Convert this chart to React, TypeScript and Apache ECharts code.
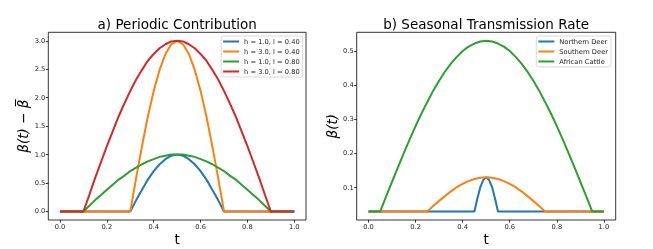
import React, { useEffect, useRef } from "react";
import * as echarts from "echarts";

// ---- Data ----
const X_TICKS = [0, 0.2, 0.4, 0.6, 0.8, 1.0];
const Y_TICKS_A = [0, 0.5, 1.0, 1.5, 2.0, 2.5, 3.0];
const Y_TICKS_B = [0.1, 0.2, 0.3, 0.4, 0.5];

// Panel a) t grid for the wide window (l = 0.80)
const T_WIDE = [0, 0.1, 0.125, 0.15, 0.175, 0.2, 0.225, 0.25, 0.275, 0.3, 0.325, 0.35, 0.375, 0.4, 0.425, 0.45, 0.475, 0.5, 0.525, 0.55, 0.575, 0.6, 0.625, 0.65, 0.675, 0.7, 0.725, 0.75, 0.775, 0.8, 0.825, 0.85, 0.875, 0.9, 1.0];
// Panel a) t grid for the narrow window (l = 0.40)
const T_NARROW = [0, 0.3, 0.325, 0.35, 0.375, 0.4, 0.425, 0.45, 0.475, 0.5, 0.525, 0.55, 0.575, 0.6, 0.625, 0.65, 0.675, 0.7, 1.0];

const H1_L040 = [0, 0, 0.20, 0.38, 0.56, 0.71, 0.83, 0.92, 0.98, 1.00, 0.98, 0.92, 0.83, 0.71, 0.56, 0.38, 0.20, 0, 0];
const H3_L040 = [0, 0, 0.59, 1.15, 1.67, 2.12, 2.49, 2.77, 2.94, 3.00, 2.94, 2.77, 2.49, 2.12, 1.67, 1.15, 0.59, 0, 0];
const H1_L080 = [0, 0, 0.10, 0.20, 0.29, 0.38, 0.47, 0.56, 0.63, 0.71, 0.77, 0.83, 0.88, 0.92, 0.96, 0.98, 1.00, 1.00, 1.00, 0.98, 0.96, 0.92, 0.88, 0.83, 0.77, 0.71, 0.63, 0.56, 0.47, 0.38, 0.29, 0.20, 0.10, 0, 0];
const H3_L080 = [0, 0, 0.29, 0.59, 0.87, 1.15, 1.41, 1.67, 1.90, 2.12, 2.32, 2.49, 2.65, 2.77, 2.87, 2.94, 2.99, 3.00, 2.99, 2.94, 2.87, 2.77, 2.65, 2.49, 2.32, 2.12, 1.90, 1.67, 1.41, 1.15, 0.87, 0.59, 0.29, 0, 0];

// Panel b)
const T_NORTH = [0, 0.45, 0.4625, 0.475, 0.4875, 0.5, 0.5125, 0.525, 0.5375, 0.55, 1.0];
const NORTHERN_DEER = [0.03, 0.03, 0.068, 0.101, 0.122, 0.13, 0.122, 0.101, 0.068, 0.03, 0.03];
const T_SOUTH = [0, 0.25, 0.275, 0.3, 0.325, 0.35, 0.375, 0.4, 0.425, 0.45, 0.475, 0.5, 0.525, 0.55, 0.575, 0.6, 0.625, 0.65, 0.675, 0.7, 0.725, 0.75, 1.0];
const SOUTHERN_DEER = [0.03, 0.03, 0.046, 0.061, 0.075, 0.089, 0.101, 0.111, 0.119, 0.125, 0.129, 0.13, 0.129, 0.125, 0.119, 0.111, 0.101, 0.089, 0.075, 0.061, 0.046, 0.03, 0.03];
const T_CATTLE = [0, 0.05, 0.075, 0.1, 0.125, 0.15, 0.175, 0.2, 0.225, 0.25, 0.275, 0.3, 0.325, 0.35, 0.375, 0.4, 0.425, 0.45, 0.475, 0.5, 0.525, 0.55, 0.575, 0.6, 0.625, 0.65, 0.675, 0.7, 0.725, 0.75, 0.775, 0.8, 0.825, 0.85, 0.875, 0.9, 0.925, 0.95, 1.0];
const AFRICAN_CATTLE = [0.03, 0.03, 0.074, 0.117, 0.159, 0.201, 0.241, 0.280, 0.317, 0.351, 0.384, 0.413, 0.440, 0.463, 0.483, 0.500, 0.513, 0.522, 0.528, 0.530, 0.528, 0.522, 0.513, 0.500, 0.483, 0.463, 0.440, 0.413, 0.384, 0.351, 0.317, 0.280, 0.241, 0.201, 0.159, 0.117, 0.074, 0.03, 0.03];

const NAMES_A = ["h = 1.0, l = 0.40", "h = 3.0, l = 0.40", "h = 1.0, l = 0.80", "h = 3.0, l = 0.80"];
const NAMES_B = ["Northern Deer", "Southern Deer", "African Cattle"];
const COLORS = ["#1f77b4", "#ff7f0e", "#2ca02c", "#d62728"];

const FONT = "DejaVu Sans";
const zip = (t: number[], v: number[]) => t.map((x, i) => [x, v[i]]);

export default function App() {
  const ref = useRef<HTMLDivElement>(null);
  useEffect(() => {
    const chart = echarts.init(ref.current!, null, { renderer: "svg" });
    const xAxis = (gi: number) => ({
      type: "value",
      gridIndex: gi,
      position: "bottom",
      min: -0.05,
      max: 1.05,
      axisLine: { show: false, onZero: false },
      splitLine: { show: false },
      axisTick: { show: true, customValues: X_TICKS, length: 2.5, lineStyle: { color: "#000", width: 0.8 } },
      axisLabel: { customValues: X_TICKS, formatter: (v: number) => v.toFixed(1), fontSize: 6.7, fontFamily: FONT, color: "#222", margin: 3 },
    });
    const yAxis = (gi: number, min: number, max: number, ticks: number[]) => ({
      type: "value",
      gridIndex: gi,
      position: "left",
      min,
      max,
      axisLine: { show: false, onZero: false },
      splitLine: { show: false },
      axisTick: { show: true, customValues: ticks, length: 2.5, lineStyle: { color: "#000", width: 0.8 } },
      axisLabel: { customValues: ticks, formatter: (v: number) => v.toFixed(1), fontSize: 6.7, fontFamily: FONT, color: "#222", margin: 3 },
    });
    const line = (name: string, data: number[][], color: string, gi: number) => ({
      type: "line",
      name,
      xAxisIndex: gi,
      yAxisIndex: gi,
      data,
      showSymbol: false,
      symbol: "none",
      lineStyle: { color, width: 2 },
      itemStyle: { color },
      clip: true,
    });
    const legendBase = {
      orient: "vertical",
      icon: "rect",
      itemWidth: 16,
      itemHeight: 2,
      itemGap: 2,
      padding: [1.5, 3, 1.5, 2],
      borderColor: "#d0d0d0",
      borderWidth: 0.8,
      borderRadius: 2,
      backgroundColor: "rgba(255,255,255,0.8)",
      textStyle: { fontSize: 6.7, fontFamily: FONT, color: "#222", lineHeight: 8 },
      selectedMode: false,
    };
    chart.setOption({
      animation: false,
      grid: [
        { left: 48.3, top: 32.3, width: 257.7, height: 187.7, show: true, borderColor: "#000", borderWidth: 0.8, backgroundColor: "transparent" },
        { left: 356.7, top: 32.3, width: 259, height: 187.7, show: true, borderColor: "#000", borderWidth: 0.8, backgroundColor: "transparent" },
      ],
      xAxis: [xAxis(0), xAxis(1)],
      yAxis: [yAxis(0, -0.15, 3.15, Y_TICKS_A), yAxis(1, 0.005, 0.555, Y_TICKS_B)],
      legend: [
        { ...legendBase, data: NAMES_A, right: 350.3, top: 36 },
        { ...legendBase, data: NAMES_B, right: 42, top: 36 },
      ],
      series: [
        line(NAMES_A[0], zip(T_NARROW, H1_L040), COLORS[0], 0),
        line(NAMES_A[1], zip(T_NARROW, H3_L040), COLORS[1], 0),
        line(NAMES_A[2], zip(T_WIDE, H1_L080), COLORS[2], 0),
        line(NAMES_A[3], zip(T_WIDE, H3_L080), COLORS[3], 0),
        line(NAMES_B[0], zip(T_NORTH, NORTHERN_DEER), COLORS[0], 1),
        line(NAMES_B[1], zip(T_SOUTH, SOUTHERN_DEER), COLORS[1], 1),
        line(NAMES_B[2], zip(T_CATTLE, AFRICAN_CATTLE), COLORS[2], 1),
      ],
      graphic: [
        { type: "text", x: 177.2, y: 24, style: { text: "a) Periodic Contribution", font: `13.5px '${FONT}'`, fill: "#000", align: "center", verticalAlign: "middle" } },
        { type: "text", x: 486.2, y: 24, style: { text: "b) Seasonal Transmission Rate", font: `13.5px '${FONT}'`, fill: "#000", align: "center", verticalAlign: "middle" } },
        { type: "text", x: 177.2, y: 239, style: { text: "t", font: `13.5px '${FONT}'`, fill: "#000", align: "center", verticalAlign: "middle" } },
        { type: "text", x: 486.2, y: 239, style: { text: "t", font: `13.5px '${FONT}'`, fill: "#000", align: "center", verticalAlign: "middle" } },
        { type: "text", x: 23, y: 126.2, rotation: Math.PI / 2, style: { text: "β(t) − β\u0305", font: `italic 13.5px '${FONT}'`, fill: "#000", align: "center", verticalAlign: "middle" } },
        { type: "text", x: 332, y: 126.2, rotation: Math.PI / 2, style: { text: "β(t)", font: `italic 13.5px '${FONT}'`, fill: "#000", align: "center", verticalAlign: "middle" } },
      ],
    });
    return () => chart.dispose();
  }, []);
  return <div ref={ref} style={{ position: "fixed", left: 0, top: 0, width: 653, height: 249 }} />;
}
